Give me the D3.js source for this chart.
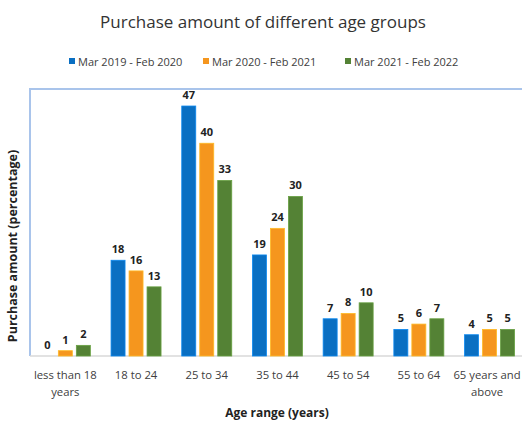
<!DOCTYPE html>
<html><head><meta charset="utf-8">
<script src="https://cdn.jsdelivr.net/npm/d3@7"></script>
<style>body{margin:0;background:#fff}svg{display:block;font-family:"Open Sans",sans-serif}</style>
</head><body><svg id="c" width="522" height="421"></svg>
<script>
const categories = [["less than 18","years"],["18 to 24"],["25 to 34"],["35 to 44"],["45 to 54"],["55 to 64"],["65 years and","above"]];
const seriesNames = ["Mar 2019 - Feb 2020","Mar 2020 - Feb 2021","Mar 2021 - Feb 2022"];
const s2019 = [0,18,47,19,7,5,4];
const s2020 = [1,16,40,24,8,6,5];
const s2021 = [2,13,33,30,10,7,5];
const colors = ["#0A6FC2","#F5961E","#548235"];
const series = [s2019,s2020,s2021];

const svg = d3.select("#c");
const pLeft=30, pTop=89, pBase=356;
const x = d3.scaleBand().domain(d3.range(categories.length)).range([pLeft, pLeft+7*70.7]);
const xs = d3.scaleBand().domain([0,1,2]).range([-25,25]).paddingInner(0.222);
const y = d3.scaleLinear().domain([0,50.2]).range([pBase, pTop]);

svg.append("text").attr("x",263).attr("y",28).attr("text-anchor","middle").attr("font-size",17).attr("fill","#333").text("Purchase amount of different age groups");

const lg = svg.append("g");
const lx=[69,203,345];
seriesNames.forEach((n,i)=>{
  lg.append("rect").attr("x",lx[i]).attr("y",58).attr("width",6).attr("height",6).attr("fill",colors[i]);
  lg.append("text").attr("x",lx[i]+9).attr("y",65.5).attr("font-size",11).attr("fill","#404040").text(n);
});

svg.append("path").attr("d",`M${pLeft},${pBase}V${pTop}H522`).attr("fill","none").attr("stroke","#A9C4EB").attr("stroke-width",2);
svg.append("line").attr("x1",pLeft).attr("x2",522).attr("y1",pBase).attr("y2",pBase).attr("stroke","#D9D9D9").attr("stroke-width",1.5);

series.forEach((s,si)=>{
  const g = svg.append("g");
  g.selectAll("rect").data(s).join("rect")
    .attr("x",(d,i)=>x(i)+x.bandwidth()/2+xs(si))
    .attr("y",d=>y(d)).attr("width",xs.bandwidth()).attr("height",d=>pBase-y(d))
    .attr("fill",colors[si]).attr("stroke",d3.color(colors[si]).brighter(0.6)).attr("stroke-width",0.8);
  g.selectAll("text").data(s).join("text")
    .attr("x",(d,i)=>x(i)+x.bandwidth()/2+xs(si)+xs.bandwidth()/2)
    .attr("y",d=>y(d)-7).attr("text-anchor","middle").attr("font-size",11).attr("font-weight","bold").attr("fill","#222").text(d=>d);
});

categories.forEach((c,i)=>{
  const cx = Math.min(x(i)+x.bandwidth()/2, 487);
  const t = svg.append("text").attr("x",cx).attr("y",379).attr("text-anchor","middle").attr("font-size",11.3).attr("fill","#404040");
  c.forEach((l,j)=>t.append("tspan").attr("x",cx).attr("dy",j?17:0).text(l));
});

svg.append("text").attr("x",277).attr("y",417).attr("text-anchor","middle").attr("font-size",12).attr("font-weight","bold").attr("fill","#222").text("Age range (years)");
svg.append("text").attr("transform","translate(17,246) rotate(-90)").attr("text-anchor","middle").attr("font-size",12.5).attr("font-weight","bold").attr("fill","#222").text("Purchase amount (percentage)");
</script></body></html>
